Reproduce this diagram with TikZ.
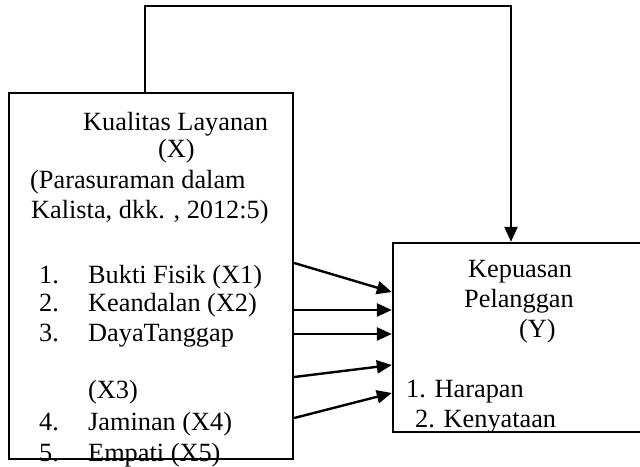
\documentclass[tikz,border=0pt]{standalone}
\usepackage{fontspec}
\setmainfont{Liberation Serif}
\usetikzlibrary{arrows.meta}

\begin{document}
\begin{tikzpicture}[x=1pt,y=-1pt,line width=2.4pt,
    txt/.style={anchor=base west,inner sep=0pt,font=\fontsize{26.3}{30}\selectfont},
    arr/.style={-{Triangle[length=15pt,width=13pt]}}]
  \useasboundingbox (0,0) rectangle (640,466);
  \clip (0,0) rectangle (640,466);
  % boxes
  \node[draw,minimum width=284pt,minimum height=366pt,inner sep=0pt] (kualitas) at (151,276) {};
  \node[draw,minimum width=267pt,minimum height=189pt,inner sep=0pt] (kepuasan) at (526.5,337.5) {};
  % left text
  \node[txt] (kl) at (82,130) {Kualitas Layanan};
  \node[txt] (kx) at (157,157) {(X)};
  \node[txt] (kp) at (29,188) {(Parasuraman dalam};
  \node[txt] (kk) at (30,218) {Kalista, dkk. , 2012:5)};
  \foreach \n/\t/\y in {1/Bukti Fisik (X1)/283, 2/Keandalan (X2)/311, 3/DayaTanggap/341, 4/Jaminan (X4)/430, 5/Empati (X5)/461}{
    \node[txt] (n\n) at (38,\y) {\n.};
    \node[txt] (x\n) at (87,\y) {\t};
  }
  \node[txt] (x3b) at (87,398) {(X3)};
  % right text
  \node[txt] (yk) at (467,277) {Kepuasan};
  \node[txt] (yp) at (463,307) {Pelanggan};
  \node[txt] (yy) at (518,337) {(Y)};
  \node[txt] (yh) at (405,397) {1. Harapan};
  \node[txt] (yn) at (414,427) {2. Kenyataan};
  % connectors
  \coordinate (up) at (145,6);
  \coordinate (over) at (511,6);
  \draw[arr] (kualitas.north -| up) -- (up) -- (over) -- (kepuasan.north -| over);
  \foreach \a/\b in {263/292, 310/310, 334/334, 377/365, 418/393}
    \draw[arr] (kualitas.east |- 0,\a) -- (kepuasan.west |- 0,\b);
\end{tikzpicture}
\end{document}
